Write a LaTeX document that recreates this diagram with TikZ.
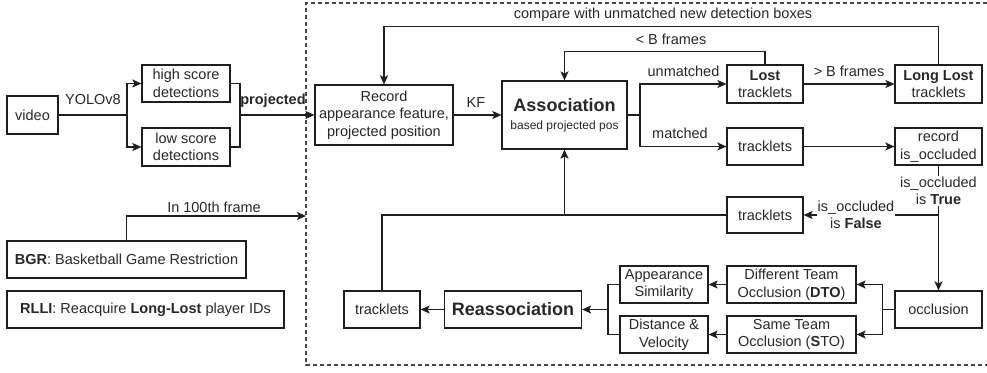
\documentclass[tikz,border=0pt]{standalone}
\usepackage{fontspec}
\setmainfont{Liberation Sans}
\usetikzlibrary{arrows.meta}
\newcommand\nfnt{\fontsize{14.5}{17.5}\selectfont}
\newcommand\bigfnt{\fontsize{18}{21}\selectfont}
\newcommand\smallfnt{\fontsize{12}{14}\selectfont}
\definecolor{linec}{RGB}{30,30,30}
\definecolor{textc}{RGB}{40,40,40}
\definecolor{dashc}{RGB}{70,70,70}
\tikzset{
  box/.style n args={2}{draw=linec, line width=1.2pt, minimum width=#1pt, minimum height=#2pt,
    inner sep=0pt, align=center, font=\nfnt, text=textc, fill=white},
  conn/.style={draw=linec, line width=1.2pt},
  arr/.style={conn, -{Stealth[length=9pt,width=8pt,inset=2pt]}},
  lbl/.style={inner sep=1pt, font=\nfnt, text=textc, align=center},
}
\begin{document}
\begin{tikzpicture}[x=1pt,y=-1pt]
\useasboundingbox[fill=white] (0,0) rectangle (987,372);
\draw[draw=dashc, line width=1.1pt, dash pattern=on 4pt off 3pt] (987,3) -- (306,3) -- (306,365) -- (987,365);

% nodes
\node[box={51}{38}] (video) at (32.5,115) {video};
\node[box={88}{37}] (high) at (186,83.5) {high score\\detections};
\node[box={88}{38}] (low) at (186,147) {low score\\detections};
\node[box={138}{60}] (rec) at (384,115) {Record\\appearance feature,\\projected position};
\node[box={125}{68}] (assoc) at (564.5,115) {{\bigfnt\bfseries Association}\\[1pt]{\smallfnt based projected pos}};
\node[box={76}{38}] (lost) at (765,84) {\textbf{Lost}\\tracklets};
\node[box={87}{38}] (llost) at (938.5,84) {\textbf{Long Lost}\\tracklets};
\node[box={76}{37}] (trkm) at (765,146.5) {tracklets};
\node[box={87}{37}] (recocc) at (938.5,146.5) {record\\is\_occluded};
\node[box={76}{36}] (trkf) at (765,215) {tracklets};
\node[box={87}{37}] (occ) at (938.5,309.5) {occlusion};
\node[box={129}{37}] (dto) at (791.5,284.5) {Different Team\\Occlusion (\textbf{DTO})};
\node[box={129}{37}] (sto) at (791.5,334.5) {Same Team\\Occlusion (\textbf{S}TO)};
\node[box={88}{37}] (app) at (664,284.5) {Appearance\\Similarity};
\node[box={88}{37}] (dist) at (664,334.5) {Distance \&\\Velocity};
\node[box={137}{37}, font=\bigfnt\bfseries] (reas) at (513,309.5) {Reassociation};
\node[box={76}{37}] (trkr) at (382,309.5) {tracklets};
\node[box={239}{37}] (bgr) at (126.5,259.5) {\textbf{BGR}: Basketball Game Restriction};
\node[box={277}{37}] (rlli) at (145.5,309.5) {\textbf{RLLI}: Reacquire \textbf{Long-Lost} player IDs};

% left part
\coordinate (sp1) at (127,115);
\draw[conn] (video.east) -- (sp1);
\draw[arr] (sp1) |- (high.west);
\draw[arr] (sp1) |- (low.west);
\node[lbl] (lyolo) at (93,100) {YOLOv8};

\coordinate (j1) at (240,115);
\draw[conn] (high.east) -| (j1);
\draw[conn] (low.east) -| (j1);
\draw[arr] (j1) -- (rec.west);
\node[lbl, font=\nfnt\bfseries] (lproj) at (273,101) {projected};

\draw[arr] (rec.east) -- (assoc.west);
\node[lbl] (lkf) at (476,103) {KF};

% association outputs
\coordinate (sp2) at (640,115);
\draw[conn] (assoc.east) -- (sp2);
\draw[arr] (sp2) |- (lost.west);
\draw[arr] (sp2) |- (trkm.west);
\node[lbl] (lunm) at (683.5,71) {unmatched};
\node[lbl] (lmat) at (680,133) {matched};

\draw[arr] (lost.east) -- (llost.west);
\node[lbl] (lgtb) at (849,71) {> B frames};

\draw[arr] (lost.north) -- ++(0,-13) -| (assoc.north);
\node[lbl] (lltb) at (671,39) {< B frames};

\draw[arr] (llost.north) -- ++(0,-38) -| (rec.north);
\node[lbl] (lcmp) at (663,15) {compare with unmatched new detection boxes};

\draw[arr] (trkm.east) -- (recocc.west);
\draw[arr] (recocc.south) -- (occ.north);
\node[lbl, fill=white] (ltrue) at (938.5,191) {is\_occluded\\is \textbf{True}};

\coordinate (jf) at (938.5,215);
\draw[arr] (jf) -- (trkf.east);
\node[lbl, fill=white] (lfalse) at (856,215) {is\_occluded\\is \textbf{False}};

% back to association
\draw[conn] (trkf.west) -| (trkr.north);
\draw[arr] (assoc.south |- trkf.west) -- (assoc.south);

% occlusion handling
\coordinate (so) at (882.5,309.5);
\draw[conn] (occ.west) -- (so);
\draw[arr] (so) |- (dto.east);
\draw[arr] (so) |- (sto.east);
\draw[arr] (dto.west) -- (app.east);
\draw[arr] (sto.west) -- (dist.east);
\coordinate (jr) at (608,309.5);
\draw[conn] (app.west) -| (jr);
\draw[conn] (dist.west) -| (jr);
\draw[arr] (jr) -- (reas.east);
\draw[arr] (reas.west) -- (trkr.east);

% BGR input
\coordinate (din) at (306,216);
\draw[arr] (bgr.north) |- (din);
\node[lbl] (l100) at (214,207) {In 100th frame};
\end{tikzpicture}
\end{document}
